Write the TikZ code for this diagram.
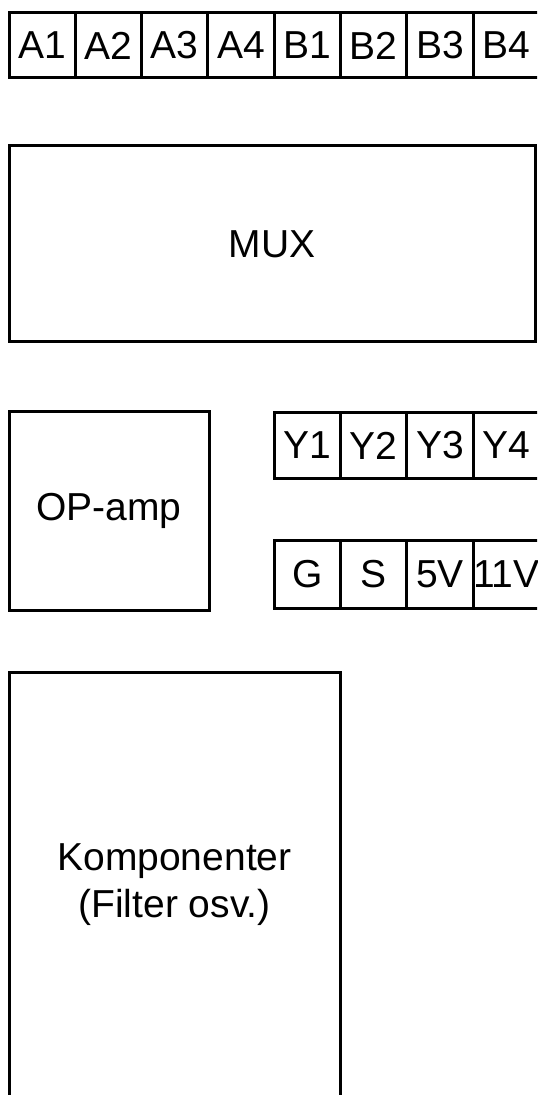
\documentclass[tikz,border=0pt]{standalone}
\usepackage{fontspec}
\setmainfont{Liberation Sans}
\usetikzlibrary{positioning}

\begin{document}
\begin{tikzpicture}[
  x=0.5pt, y=-0.5pt,
  font=\fontsize{19.5}{23.4}\selectfont,
  cell/.style={draw, line width=1.5pt, minimum width=33.15pt, minimum height=33pt, inner sep=0pt},
  block/.style={draw, line width=1.5pt, inner sep=0pt, align=center}
]
  \useasboundingbox (0,0) rectangle (537,1095);
  \clip (0,0) rectangle (537,1095);

  % Row 1 -- inputs
  \node[cell, minimum height=32.5pt] (a1) at (42.15,45.5) {A1};
  \node[cell, minimum height=32.5pt] (a2) at (108.45,45.5) {A2};
  \node[cell, minimum height=32.5pt] (a3) at (174.75,45.5) {A3};
  \node[cell, minimum height=32.5pt] (a4) at (241.05,45.5) {A4};
  \node[cell, minimum height=32.5pt] (b1) at (307.35,45.5) {B1};
  \node[cell, minimum height=32.5pt] (b2) at (373.65,45.5) {B2};
  \node[cell, minimum height=32.5pt] (b3) at (439.95,45.5) {B3};
  \node[cell, minimum height=32.5pt] (b4) at (506.25,45.5) {B4};

  % Row 2 -- multiplexer
  \node[block, minimum width=263.25pt, minimum height=98pt] (mux) at (272.25,244) {MUX};

  % Row 3 -- amplifier, outputs and supply
  \node[block, minimum width=100pt, minimum height=99pt] (opamp) at (109,511) {OP-amp};

  \node[cell] (y1) at (307.35,445.5) {Y1};
  \node[cell] (y2) at (373.65,445.5) {Y2};
  \node[cell] (y3) at (439.95,445.5) {Y3};
  \node[cell] (y4) at (506.25,445.5) {Y4};

  \node[cell, minimum height=34pt] (gnd) at (307.35,574) {G};
  \node[cell, minimum height=34pt] (sig) at (373.65,574) {S};
  \node[cell, minimum height=34pt] (vfive) at (439.95,574) {5V};
  \node[cell, minimum height=34pt] (velev) at (506.25,574) {\makebox[0pt]{11V}};

  % Row 4 -- components
  \node[block, minimum width=165.5pt, minimum height=213pt] (komp) at (174.5,885) {Komponenter\\(Filter osv.)};
\end{tikzpicture}
\end{document}
